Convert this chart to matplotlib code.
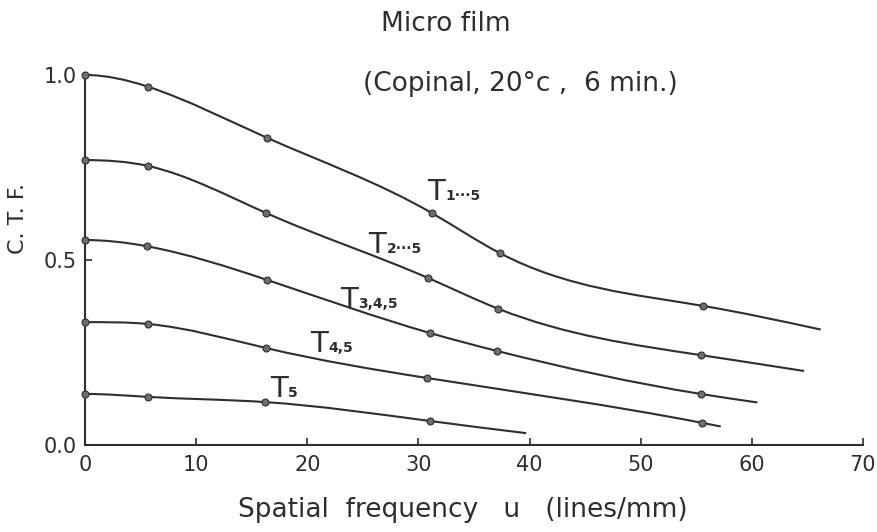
import matplotlib
matplotlib.use('Agg')
import numpy as np
import matplotlib.pyplot as plt
from matplotlib.path import Path
from matplotlib.patches import PathPatch

# Measured C.T.F. values for each curve (u in lines/mm)
t1_u = [0, 5.7, 16.4, 31.2, 37.3, 55.6]
t1_c = [1.0, 0.968, 0.83, 0.627, 0.519, 0.376]
t1_end = (66.2, 0.312)

t2_u = [0, 5.7, 16.3, 30.9, 37.2, 55.4]
t2_c = [0.77, 0.754, 0.627, 0.451, 0.368, 0.243]
t2_end = (64.7, 0.20)

t3_u = [0, 5.6, 16.4, 31.0, 37.1, 55.4]
t3_c = [0.554, 0.537, 0.446, 0.303, 0.254, 0.138]
t3_end = (60.5, 0.115)

t4_u = [0, 5.7, 16.3, 30.8, 55.5]
t4_c = [0.332, 0.327, 0.262, 0.181, 0.060]
t4_end = (57.2, 0.05)

t5_u = [0, 5.7, 16.2, 31.0]
t5_c = [0.138, 0.13, 0.116, 0.065]
t5_end = (39.7, 0.032)

curve_labels = ['1\u00b7\u00b7\u00b75', '2\u00b7\u00b7\u00b75', '3,4,5', '4,5', '5']
label_pos = [(30.8, 0.662), (25.5, 0.52), (22.95, 0.37), (20.25, 0.25), (16.65, 0.13)]

x_ticks = [0, 10, 20, 30, 40, 50, 60, 70]
y_ticks = [0.0, 0.5, 1.0]

ink = '#2e2e2e'
plt.rcParams['font.family'] = 'DejaVu Sans'


def spline_slopes(xs, ys):
    # slopes of a cubic spline: flat at u = 0, natural at the far end
    n = len(xs)
    h = np.diff(xs)
    s = np.diff(ys) / h
    A = np.zeros((n, n))
    b = np.zeros(n)
    A[0, 0] = 1.0
    for i in range(1, n - 1):
        A[i, i - 1] = 1 / h[i - 1]
        A[i, i] = 2 * (1 / h[i - 1] + 1 / h[i])
        A[i, i + 1] = 1 / h[i]
        b[i] = 3 * (s[i - 1] / h[i - 1] + s[i] / h[i])
    A[-1, -2] = 1.0
    A[-1, -1] = 2.0
    b[-1] = 3 * s[-1]
    return np.linalg.solve(A, b)


def smooth_path(xs, ys):
    m = spline_slopes(np.array(xs, float), np.array(ys, float))
    verts = [(xs[0], ys[0])]
    codes = [Path.MOVETO]
    for i in range(len(xs) - 1):
        h = xs[i + 1] - xs[i]
        verts += [(xs[i] + h / 3, ys[i] + m[i] * h / 3),
                  (xs[i + 1] - h / 3, ys[i + 1] - m[i + 1] * h / 3),
                  (xs[i + 1], ys[i + 1])]
        codes += [Path.CURVE4] * 3
    return Path(verts, codes)


fig = plt.figure(figsize=(8.78, 5.32), dpi=100)
fig.patch.set_facecolor('white')
ax = fig.add_axes([85 / 878, 1 - 445 / 532, 778 / 878, 370 / 532])
ax.set_xlim(0, 70)
ax.set_ylim(0, 1.0)

series = [(t1_u, t1_c, t1_end), (t2_u, t2_c, t2_end), (t3_u, t3_c, t3_end),
          (t4_u, t4_c, t4_end), (t5_u, t5_c, t5_end)]

for (u, c, end), sub, (lx, ly) in zip(series, curve_labels, label_pos):
    xs = list(u) + [end[0]]
    ys = list(c) + [end[1]]
    ax.add_patch(PathPatch(smooth_path(xs, ys), facecolor='none',
                           edgecolor=ink, lw=1.5, clip_on=False))
    ax.plot(u, c, 'o', ms=5, mfc='#6e6e6e', mec=ink, mew=0.8, clip_on=False, zorder=3)
    ax.text(lx, ly, 'T', fontsize=21, color=ink, ha='left', va='baseline')
    ax.annotate(sub, xy=(lx, ly), xytext=(13, 0), textcoords='offset points',
                fontsize=10, fontweight='bold', color=ink, ha='left', va='baseline')

for side in ['top', 'right']:
    ax.spines[side].set_visible(False)
for side in ['left', 'bottom']:
    ax.spines[side].set_color(ink)
    ax.spines[side].set_linewidth(1.5)

ax.set_xticks(x_ticks)
ax.set_xticklabels([str(t) for t in x_ticks])
ax.set_yticks(y_ticks)
ax.set_yticklabels(['%.1f' % t for t in y_ticks])
ax.tick_params(direction='in', length=5, width=1.2, colors=ink, labelsize=15)
ax.tick_params(axis='x', pad=7)
ax.tick_params(axis='y', pad=6)

fig.text(446 / 878, 1 - 24 / 532, 'Micro film', fontsize=19, color=ink,
         ha='center', va='center')
fig.text(520 / 878, 1 - 84 / 532, '(Copinal, 20\u00b0c ,  6 min.)', fontsize=19,
         color=ink, ha='center', va='center')
fig.text(18 / 878, 1 - 218 / 532, 'C. T. F.', fontsize=16, color=ink,
         rotation=90, ha='center', va='center')
fig.text(463 / 878, 1 - 510 / 532, 'Spatial  frequency   u   (lines/mm)',
         fontsize=19, color=ink, ha='center', va='center')

fig.savefig('out.png', dpi=100)
